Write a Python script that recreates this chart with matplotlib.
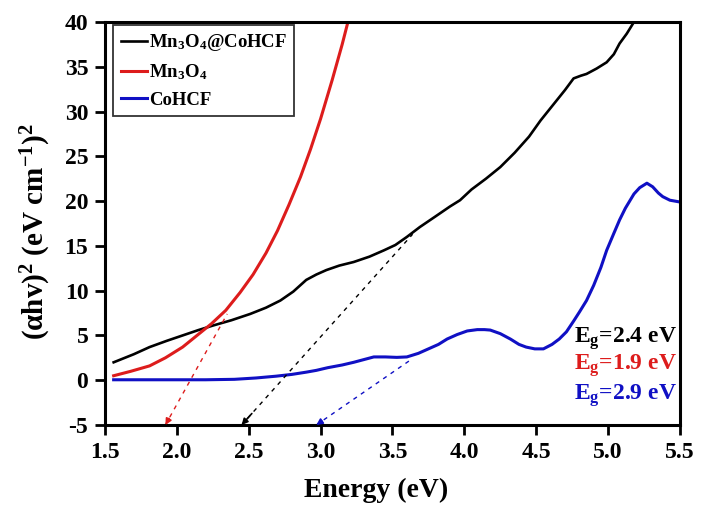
import numpy as np
import matplotlib
matplotlib.use("Agg")
import matplotlib.pyplot as plt

plt.rcParams['font.family'] = ['Liberation Serif', 'DejaVu Serif']
plt.rcParams['font.weight'] = 'bold'
plt.rcParams['mathtext.fontset'] = 'custom'
plt.rcParams['mathtext.rm'] = 'Liberation Serif:bold'
plt.rcParams['mathtext.it'] = 'Liberation Serif:bold:italic'
plt.rcParams['mathtext.bf'] = 'Liberation Serif:bold'
plt.rcParams['mathtext.default'] = 'rm'

# ---- data ----
black_E = [1.56, 1.70, 1.81, 1.93, 2.04, 2.15, 2.25, 2.38, 2.51, 2.62, 2.72, 2.81, 2.90, 2.97,
           3.04, 3.13, 3.23, 3.34, 3.44, 3.52, 3.60, 3.69, 3.80, 3.90, 3.97, 4.05, 4.15, 4.25,
           4.35, 4.45, 4.53, 4.62, 4.70, 4.76, 4.81, 4.85, 4.92, 4.99, 5.04, 5.08, 5.13, 5.18, 5.21]
black_y = [2.0, 2.9, 3.7, 4.4, 5.0, 5.6, 6.1, 6.7, 7.4, 8.1, 8.9, 9.9, 11.2, 11.8,
           12.3, 12.8, 13.2, 13.8, 14.5, 15.1, 16.0, 17.1, 18.3, 19.4, 20.1, 21.3, 22.5, 23.8,
           25.4, 27.2, 29.0, 30.8, 32.4, 33.7, 34.0, 34.2, 34.8, 35.5, 36.4, 37.6, 38.7, 40.0, 41.0]

red_E = [1.56, 1.68, 1.81, 1.92, 2.04, 2.14, 2.24, 2.34, 2.44, 2.53, 2.62, 2.70, 2.78, 2.86,
         2.93, 3.00, 3.08, 3.15, 3.19, 3.23]
red_y = [0.5, 1.0, 1.6, 2.5, 3.7, 5.0, 6.3, 7.8, 9.8, 11.8, 14.2, 16.7, 19.6, 22.7,
         25.8, 29.2, 33.5, 37.5, 40.0, 42.5]

blue_E = [1.56, 1.80, 2.00, 2.20, 2.40, 2.55, 2.69, 2.80, 2.90, 2.97, 3.05, 3.15, 3.23, 3.30,
          3.37, 3.45, 3.53, 3.60, 3.68, 3.75, 3.82, 3.88, 3.95, 4.02, 4.09, 4.14, 4.18, 4.25,
          4.32, 4.38, 4.43, 4.49, 4.55, 4.61, 4.66, 4.71, 4.76, 4.80, 4.85, 4.90, 4.95, 4.99,
          5.04, 5.08, 5.12, 5.15, 5.18, 5.22, 5.27, 5.31, 5.35, 5.38, 5.43, 5.50]
blue_y = [0.05, 0.05, 0.05, 0.05, 0.1, 0.25, 0.45, 0.65, 0.9, 1.1, 1.4, 1.7, 2.0, 2.3,
          2.6, 2.6, 2.55, 2.6, 3.0, 3.5, 4.0, 4.6, 5.1, 5.5, 5.65, 5.65, 5.6, 5.2,
          4.6, 4.0, 3.7, 3.5, 3.5, 4.0, 4.6, 5.4, 6.6, 7.6, 8.9, 10.6, 12.6, 14.5,
          16.4, 17.9, 19.2, 20.0, 20.8, 21.5, 22.0, 21.6, 20.9, 20.5, 20.1, 19.9]

# tangent lines (extrapolation to band gap): (E, y) from bottom to top
red_tan_E = [1.92, 2.35]
red_tan_y = [-5.0, 7.4]
black_tan_E = [2.45, 3.64]
black_tan_y = [-5.0, 16.3]
blue_tan_E = [2.97, 3.62]
blue_tan_y = [-5.0, 2.2]

labels = ['Mn$_3$O$_4$@CoHCF', 'Mn$_3$O$_4$', 'CoHCF']
eg_labels = ['E$_\\mathrm{g}$=2.4 eV', 'E$_\\mathrm{g}$=1.9 eV', 'E$_\\mathrm{g}$=2.9 eV']

xticks = [1.5, 2.0, 2.5, 3.0, 3.5, 4.0, 4.5, 5.0, 5.5]
yticks = [-5, 0, 5, 10, 15, 20, 25, 30, 35, 40]

c_black = '#000000'
c_red = '#dd1c1c'
c_blue = '#1010c4'

fig = plt.figure(figsize=(7.02, 5.08), dpi=100)
ax = fig.add_axes([0.1496, 0.1634, 0.819, 0.7933])

l1, = ax.plot(black_E, black_y, color=c_black, lw=1.9, label=labels[0])
l2, = ax.plot(red_E, red_y, color=c_red, lw=2.2, label=labels[1])
l3, = ax.plot(blue_E, blue_y, color=c_blue, lw=2.2, label=labels[2])

for tE, ty, c in [(red_tan_E, red_tan_y, c_red), (black_tan_E, black_tan_y, c_black),
                  (blue_tan_E, blue_tan_y, c_blue)]:
    ax.plot(tE, ty, color=c, lw=1.0, dashes=(3, 3.5))
    frac = 0.06
    sx = tE[0] + (tE[1] - tE[0]) * frac
    sy = ty[0] + (ty[1] - ty[0]) * frac
    ax.annotate('', xy=(tE[0], ty[0]), xytext=(sx, sy),
                arrowprops=dict(arrowstyle='-|>', color=c, lw=1.2, mutation_scale=9,
                                shrinkA=0, shrinkB=0), annotation_clip=False)

ax.set_xlim(1.5, 5.5)
ax.set_ylim(-5, 40)
ax.set_xticks(xticks)
ax.set_xticklabels([f'{t:.1f}' for t in xticks])
ax.set_yticks(yticks)
ax.set_yticklabels([f'{t:d}' for t in yticks])
ax.tick_params(axis='both', direction='out', length=7, width=2, labelsize=17, pad=5)
for sp in ax.spines.values():
    sp.set_linewidth(2.2)

ax.set_xlabel('Energy (eV)', fontsize=20, fontweight='bold', labelpad=11, x=0.471)
ax.set_ylabel('(αhv)$^2$ (eV cm$^{-1}$)$^2$', fontsize=21, fontweight='bold', labelpad=8, y=0.48)

leg = ax.legend(handles=[l1, l2, l3], loc='upper left', bbox_to_anchor=(0.014, 0.993),
                borderaxespad=0, frameon=True, fancybox=False, edgecolor='black',
                prop=dict(family='Liberation Serif', weight='bold', size=13.5),
                handlelength=1.4, handletextpad=0.1, labelspacing=0.5, borderpad=0.4)
leg.get_frame().set_linewidth(1.3)

ax.text(5.48, 4.7, eg_labels[0], color=c_black, fontsize=17, fontweight='bold',
        ha='right', va='center')
ax.text(5.48, 1.6, eg_labels[1], color=c_red, fontsize=17, fontweight='bold',
        ha='right', va='center')
ax.text(5.48, -1.7, eg_labels[2], color=c_blue, fontsize=17, fontweight='bold',
        ha='right', va='center')

fig.savefig('out.png', dpi=100)
